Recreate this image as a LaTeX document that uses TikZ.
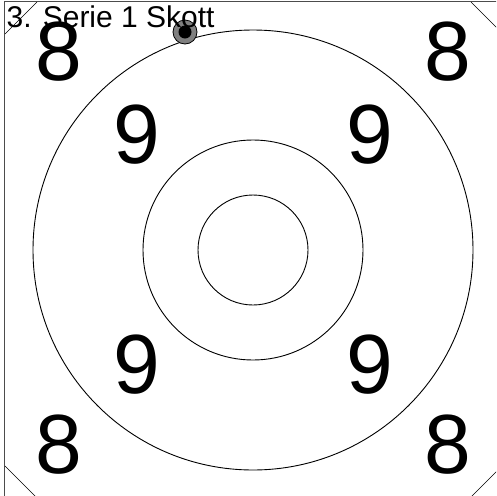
\documentclass[tikz,border=0pt]{standalone}
\usepackage{fontspec}
\setmainfont{Liberation Sans}
\begin{document}
\begin{tikzpicture}[x=1pt,y=-1pt,
  ring/.style={circle,draw=black,line width=0.9pt,inner sep=0pt},
  big/.style={font=\fontsize{84}{84}\selectfont,inner sep=0pt,anchor=center},
  frame/.style={draw=black!70,line width=1pt},
  cut/.style={draw=black,line width=0.6pt}]
\useasboundingbox (0,0) rectangle (496,496);
\clip (0,0) rectangle (496,496);
% frame
\draw[frame] (4.7,1.8) rectangle (501,498);
\coordinate (tl1) at (5,34); \coordinate (tl2) at (37,2);
\coordinate (tr1) at (471,2); \coordinate (tr2) at (501,32);
\coordinate (bl1) at (5,466); \coordinate (bl2) at (37,498);
\coordinate (br1) at (470,498); \coordinate (br2) at (501,467);
\draw[cut] (tl1) -- (tl2);
\draw[cut] (tr1) -- (tr2);
\draw[cut] (bl1) -- (bl2);
\draw[cut] (br1) -- (br2);
% rings
\coordinate (c) at (253,250);
\node[ring,minimum size=440pt] (r8) at (c) {};
\node[ring,minimum size=220pt] (r9) at (c) {};
\node[ring,minimum size=110pt] (r10) at (c) {};
% numbers
\node[big] (n8a) at (59,52) {8};
\node[big] (n8b) at (448,52) {8};
\node[big] (n8c) at (59,445) {8};
\node[big] (n8d) at (448,445) {8};
\node[big] (n9a) at (137,135) {9};
\node[big] (n9b) at (370,135) {9};
\node[big] (n9c) at (137,365) {9};
\node[big] (n9d) at (370,365) {9};
% shot
\node[circle,draw=black,fill=black!50,line width=0.8pt,minimum size=24pt,inner sep=0pt] (shot) at (185,32) {};
\node[circle,fill=black,minimum size=13pt,inner sep=0pt] (shotc) at (185,32) {};
% title
\node[anchor=base west,inner sep=0pt,font=\fontsize{30}{30}\selectfont] (title) at (6.5,27.5) {3. Serie 1 Skott};
\end{tikzpicture}
\end{document}
